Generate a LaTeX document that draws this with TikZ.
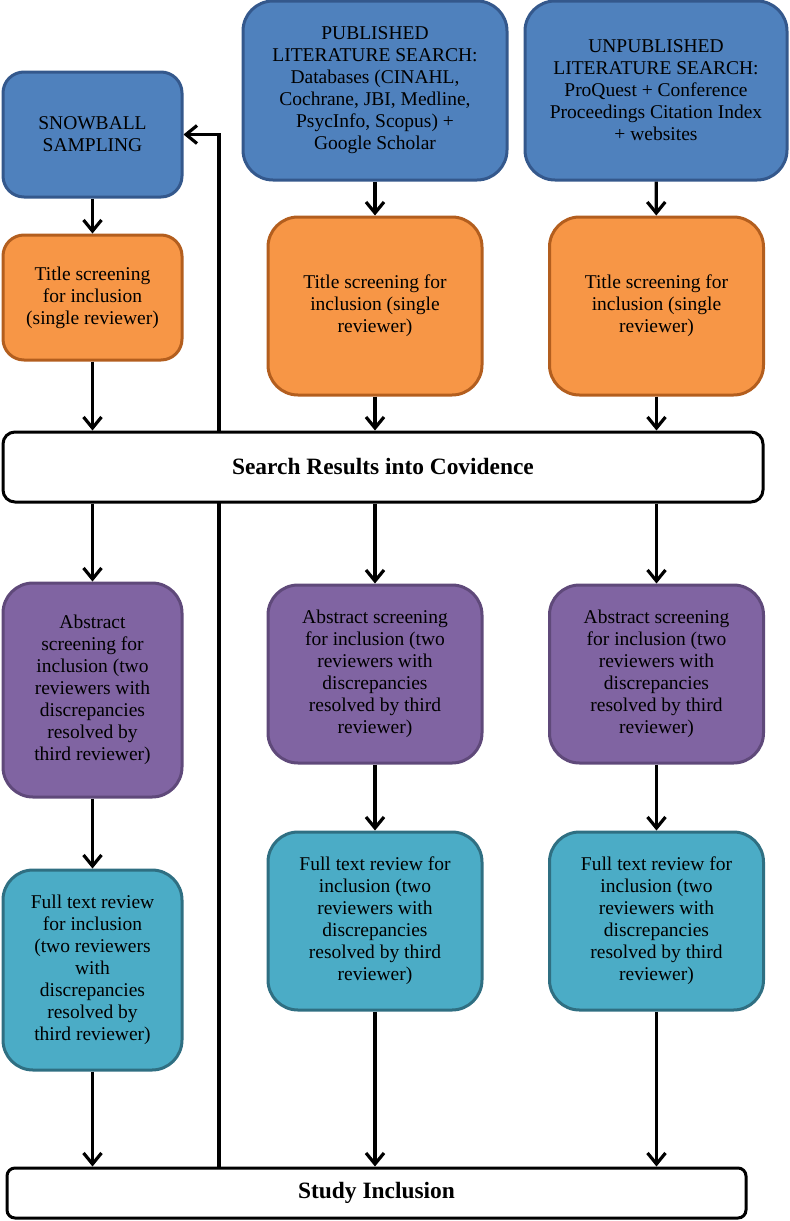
\documentclass[tikz,border=0pt]{standalone}
\usepackage{fontspec}
\setmainfont{Liberation Serif}
\usetikzlibrary{arrows.meta, positioning, backgrounds}
\definecolor{sourcefill}{HTML}{4F81BD}
\definecolor{sourceline}{HTML}{34588C}
\definecolor{titlefill}{HTML}{F79646}
\definecolor{titleline}{HTML}{B35E1E}
\definecolor{abstractfill}{HTML}{8064A2}
\definecolor{abstractline}{HTML}{5F497A}
\definecolor{fullfill}{HTML}{4BACC6}
\definecolor{fullline}{HTML}{2F6F82}
\tikzset{
  stagebox/.style={draw, line width=1.5pt, align=center, inner sep=0pt,
    font=\fontsize{9.75}{11}\selectfont, rounded corners=15pt},
  smallbox/.style={minimum width=89.5pt, minimum height=62.5pt, rounded corners=10.5pt},
  midbox/.style={minimum width=107pt, minimum height=89pt},
  sourcebox/.style={stagebox, fill=sourcefill, draw=sourceline},
  titlebox/.style={stagebox, fill=titlefill, draw=titleline},
  abstractbox/.style={stagebox, fill=abstractfill, draw=abstractline},
  fullbox/.style={stagebox, fill=fullfill, draw=fullline},
  barbox/.style={draw, fill=white, line width=1.5pt, inner sep=0pt,
    font=\fontsize{11.7}{13}\selectfont\bfseries},
  flow/.style={->, line width=1.6pt}
}

\begin{document}
\begin{tikzpicture}[x=0.5pt, y=-0.5pt, >={Straight Barb[length=5.5pt,width=9pt]}]
    \useasboundingbox (0,0) rectangle (789,1221);
    \node[sourcebox, smallbox] (snow) at (92.5,134.5) {SNOWBALL\\SAMPLING};
    \node[sourcebox, minimum width=132pt, minimum height=89.5pt] (pub) at (375,90.5)
      {PUBLISHED\\LITERATURE SEARCH:\\Databases (CINAHL,\\Cochrane, JBI, Medline,\\PsycInfo, Scopus) +\\Google Scholar};
    \node[sourcebox, minimum width=131pt, minimum height=89.5pt] (unpub) at (656,90.5)
      {UNPUBLISHED\\LITERATURE SEARCH:\\ProQuest + Conference\\Proceedings Citation Index\\+ websites};
    \node[titlebox, smallbox] (title1) at (92.5,297.5) {Title screening\\for inclusion\\(single reviewer)};
    \node[titlebox, midbox] (title2) at (375,306) {Title screening for\\inclusion (single\\reviewer)};
    \node[titlebox, midbox] (title3) at (656.5,306) {Title screening for\\inclusion (single\\reviewer)};
    \node[barbox, minimum width=380pt, minimum height=35pt, rounded corners=6pt] (search) at (383,467)
      {Search Results into Covidence};
    \node[abstractbox, minimum width=89.5pt, minimum height=107pt] (abs1) at (92.5,690)
      {Abstract\\screening for\\inclusion (two\\reviewers with\\discrepancies\\resolved by\\third reviewer)};
    \node[abstractbox, midbox] (abs2) at (375,674)
      {Abstract screening\\for inclusion (two\\reviewers with\\discrepancies\\resolved by third\\reviewer)};
    \node[abstractbox, midbox] (abs3) at (656.5,674)
      {Abstract screening\\for inclusion (two\\reviewers with\\discrepancies\\resolved by third\\reviewer)};
    \node[fullbox, minimum width=89.5pt, minimum height=100pt] (full1) at (92.5,970)
      {Full text review\\for inclusion\\(two reviewers\\with\\discrepancies\\resolved by\\third reviewer)};
    \node[fullbox, midbox] (full2) at (375,921)
      {Full text review for\\inclusion (two\\reviewers with\\discrepancies\\resolved by third\\reviewer)};
    \node[fullbox, midbox] (full3) at (656.5,921)
      {Full text review for\\inclusion (two\\reviewers with\\discrepancies\\resolved by third\\reviewer)};
    \node[barbox, minimum width=369.5pt, minimum height=25pt, rounded corners=4pt] (study) at (376.5,1193)
      {Study Inclusion};
    \coordinate (loop) at (219,1168);
    \draw[flow] (snow) -- (title1);
    \draw[flow] (pub) -- (title2);
    \draw[flow] (unpub) -- (title3);
    \foreach \n in {1,2,3} {
      \draw[flow] (title\n) -- (title\n |- search.north);
      \draw[flow] (search.south -| abs\n) -- (abs\n);
      \draw[flow] (abs\n) -- (full\n);
      \draw[flow] (full\n) -- (full\n |- study.north);
    }
    \begin{scope}[on background layer]
      \draw[flow] (loop) |- (snow.east);
    \end{scope}
  \end{tikzpicture}
\end{document}
